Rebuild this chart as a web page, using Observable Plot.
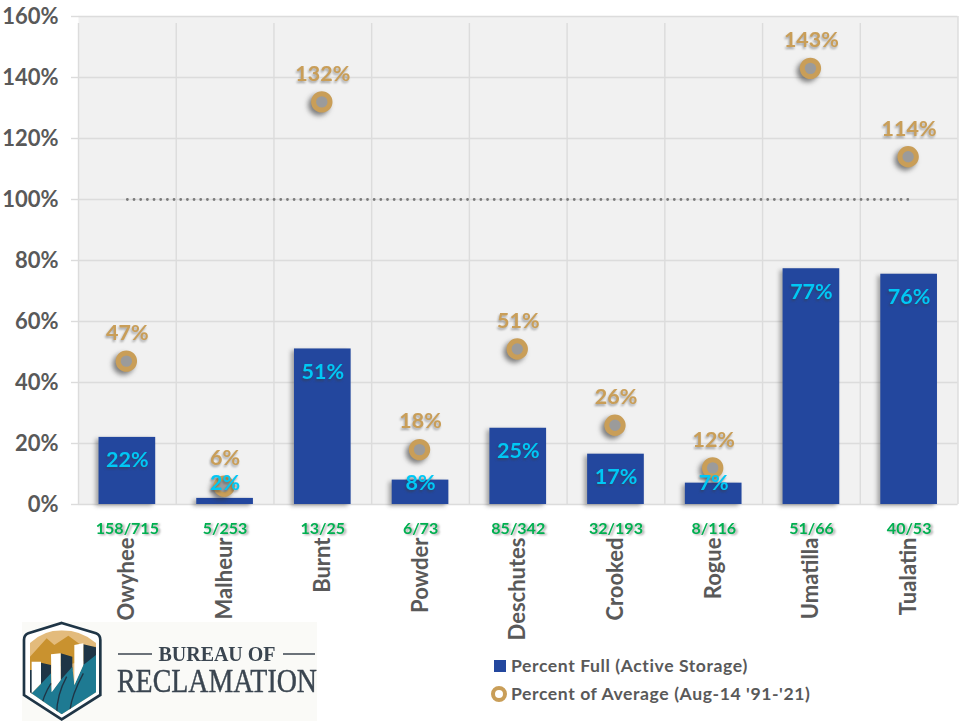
<!DOCTYPE html>
<html><head><meta charset="utf-8">
<script src="https://cdn.jsdelivr.net/npm/d3@7"></script>
<script src="https://cdn.jsdelivr.net/npm/@observablehq/plot@0.6"></script>
<style>
html,body{margin:0;padding:0;background:#fff;width:960px;height:721px;overflow:hidden}
#wrap{position:relative;width:960px;height:721px}
#chart svg{display:block;max-width:none}
.sb{filter:drop-shadow(-3px 2px 2px rgba(70,70,70,.45))}
.st{filter:drop-shadow(-1px 2px 1.2px rgba(60,60,60,.5))}
.sd{filter:drop-shadow(-3px 3px 2.5px rgba(50,50,50,.6))}
.sg{filter:drop-shadow(2px 1px 1px rgba(90,90,90,.55))}
.sa{filter:drop-shadow(-1px 2px 1px rgba(70,70,70,.45))}
#legend{position:absolute;left:0;top:0;font:700 17.6px Lato,sans-serif;color:#595959;letter-spacing:.58px}
#legend div{position:absolute;white-space:nowrap;line-height:20px}
#logo{position:absolute;left:0;top:0}
</style></head><body>
<div id="wrap"><div id="chart"></div>
<svg id="logo" width="440" height="721" viewBox="0 0 440 721" style="pointer-events:none">
<defs><clipPath id="shieldClip"><path d="M140 46 Q200 46 243 84 L243 232 L140 298 L45 232 L45 84 Q85 46 140 46 Z"/></clipPath></defs>
<rect x="22" y="622" width="295" height="99" fill="#fafaf7"/>
<g transform="translate(15,615) scale(.33333)">
<path d="M140 24 L243 55 Q256 60 256 75 L256 240 L140 313 L27 240 L27 75 Q27 60 40 55 Z" fill="#fff" stroke="#1f3546" stroke-width="8"/>
<g clip-path="url(#shieldClip)">
<rect x="40" y="40" width="210" height="270" fill="#e3bb7c"/>
<path d="M45 125 L95 70 L118 90 L160 62 L205 95 L243 95 L243 130 L45 175 Z" fill="#c9922f"/>
<path d="M78 143 L108 150 L108 185 L78 215 Z M137 115 L172 125 L172 165 L137 200 Z M205 88 L243 97 L243 125 L205 155 Z M45 165 L52 165 L52 240 L45 240 Z" fill="#1f3546"/>
<path d="M45 255 L50 235 L80 205 L108 175 L110 230 L137 195 L172 155 L178 210 L205 150 L243 120 L243 240 L140 300 Z" fill="#1e7a92"/>
<path d="M50 140 L78 140 L78 205 L50 235 Z M108 118 L137 115 L137 195 L110 232 Z M178 90 L205 85 L205 150 L178 210 Z" fill="#fff"/>
<path d="M75 290 Q85 240 108 205 M125 298 Q125 240 155 185 M165 285 Q170 240 205 175" fill="none" stroke="#1f3546" stroke-width="4"/>
</g></g>
<path d="M118 654 H152 M283 654 H315" stroke="#3d4650" stroke-width="1.6"/>
<text x="217" y="660.5" text-anchor="middle" textLength="117" lengthAdjust="spacing" font-family="'Liberation Serif'" font-size="20" font-weight="700" fill="#3a4550">BUREAU OF</text>
<text x="117" y="692" textLength="200" lengthAdjust="spacingAndGlyphs" font-family="'Liberation Serif'" font-size="33" fill="#3a4550" stroke="#3a4550" stroke-width=".4">RECLAMATION</text>
</svg>
<div id="legend"></div>
</div>
<script>
const basins = ["Owyhee","Malheur","Burnt","Powder","Deschutes","Crooked","Rogue","Umatilla","Tualatin"];
const percentFull = [22,2,51,8,25,16.5,7,77.3,75.5];
const percentFullLabels = ["22%","2%","51%","8%","25%","17%","7%","77%","76%"];
const percentAverage = [47,6,132,18,51,26,12,143,114];
const storageRatio = ["158/715","5/253","13/25","6/73","85/342","32/193","8/116","51/66","40/53"];
const yTicks = [0,20,40,60,80,100,120,140,160];
const legendLabels = ["Percent Full (Active Storage)","Percent of Average (Aug-14 '91-'21)"];
const blue="#23479e", tan="#c99e58", grey="#595959", cyan="#00c8f5", green="#00b050", gridC="#dcdcdc";

const rows = basins.map((b,i)=>({b,full:percentFull[i],fullLabel:percentFullLabels[i],avg:percentAverage[i],ratio:storageRatio[i]}));
const W=960,ML=78,MR=2.5;
const step=(W-ML-MR)/basins.length;
const font="Lato, sans-serif";

const plot = Plot.plot({
  width:W,height:645,marginLeft:ML,marginRight:MR,marginTop:16,marginBottom:141,
  style:{background:"transparent",overflow:"visible"},
  x:{domain:basins,paddingInner:.42,paddingOuter:.21,round:false,label:null},
  y:{domain:[0,160],label:null},
  marks:[
    Plot.frame({fill:"#f1f1f1",stroke:null}),
    Plot.ruleY(yTicks,{stroke:gridC,strokeWidth:1.4,strokeOpacity:1}),
    Plot.ruleX(basins,{x:d=>d,dx:-step/2,y1:0,y2:160,stroke:gridC,strokeWidth:1.4,insetBottom:-7}),
    Plot.ruleX(basins.slice(-1),{x:d=>d,dx:step/2,y1:0,y2:160,stroke:gridC,strokeWidth:1.4}),
    Plot.barY(rows,{x:"b",y:"full",fill:blue,className:"sb"}),
    Plot.line(basins.filter((b,i)=>i==0||i==basins.length-1).map(b=>({b,v:100})),{x:"b",y:"v",stroke:"#7b7b7b",strokeWidth:2.8,strokeDasharray:"0 6.67",strokeLinecap:"round"}),
    Plot.dot(rows,{x:"b",y:"avg",dx:-1,r:8.2,stroke:tan,strokeWidth:5,fill:"#9b9b9b",className:"sd"}),
    Plot.text(rows,{x:"b",y:"avg",text:d=>d.avg+"%",dy:-28,fill:tan,fontSize:21.5,fontWeight:700,fontFamily:font,className:"sa"}),
    Plot.text(rows,{x:"b",y:d=>Math.max(d.full-7.5,6.9),text:"fullLabel",fill:cyan,fontSize:21.5,fontWeight:700,fontFamily:font,className:"st"}),
    Plot.text(rows,{x:"b",y:0,text:"ratio",dy:24,fill:green,fontSize:16,fontWeight:700,fontFamily:font,className:"sg"}),
    Plot.axisY({ticks:yTicks,tickFormat:d=>d+"%",tickSize:7,tickPadding:13,stroke:gridC,strokeWidth:1.4,fill:grey,fontSize:22,fontWeight:700,fontFamily:font,label:null,tickFill:grey}),
    Plot.axisX({tickSize:0,tickPadding:33,tickRotate:-90,fill:grey,fontSize:22,fontWeight:700,fontFamily:font,label:null})
  ]
});
document.getElementById("chart").append(plot);

// Legend, built from its label list (HTML beneath the chart)
const legend=document.getElementById("legend");
legend.innerHTML=`
<div style="left:494px;top:660px;width:12px;height:12px;background:${blue}"></div>
<div style="left:511px;top:656px">${legendLabels[0]}</div>
<div style="left:490.5px;top:686px;width:8px;height:8px;border:4.5px solid ${tan};border-radius:50%;background:#fff"></div>
<div style="left:511px;top:684px">${legendLabels[1]}</div>`;
</script></body></html>
